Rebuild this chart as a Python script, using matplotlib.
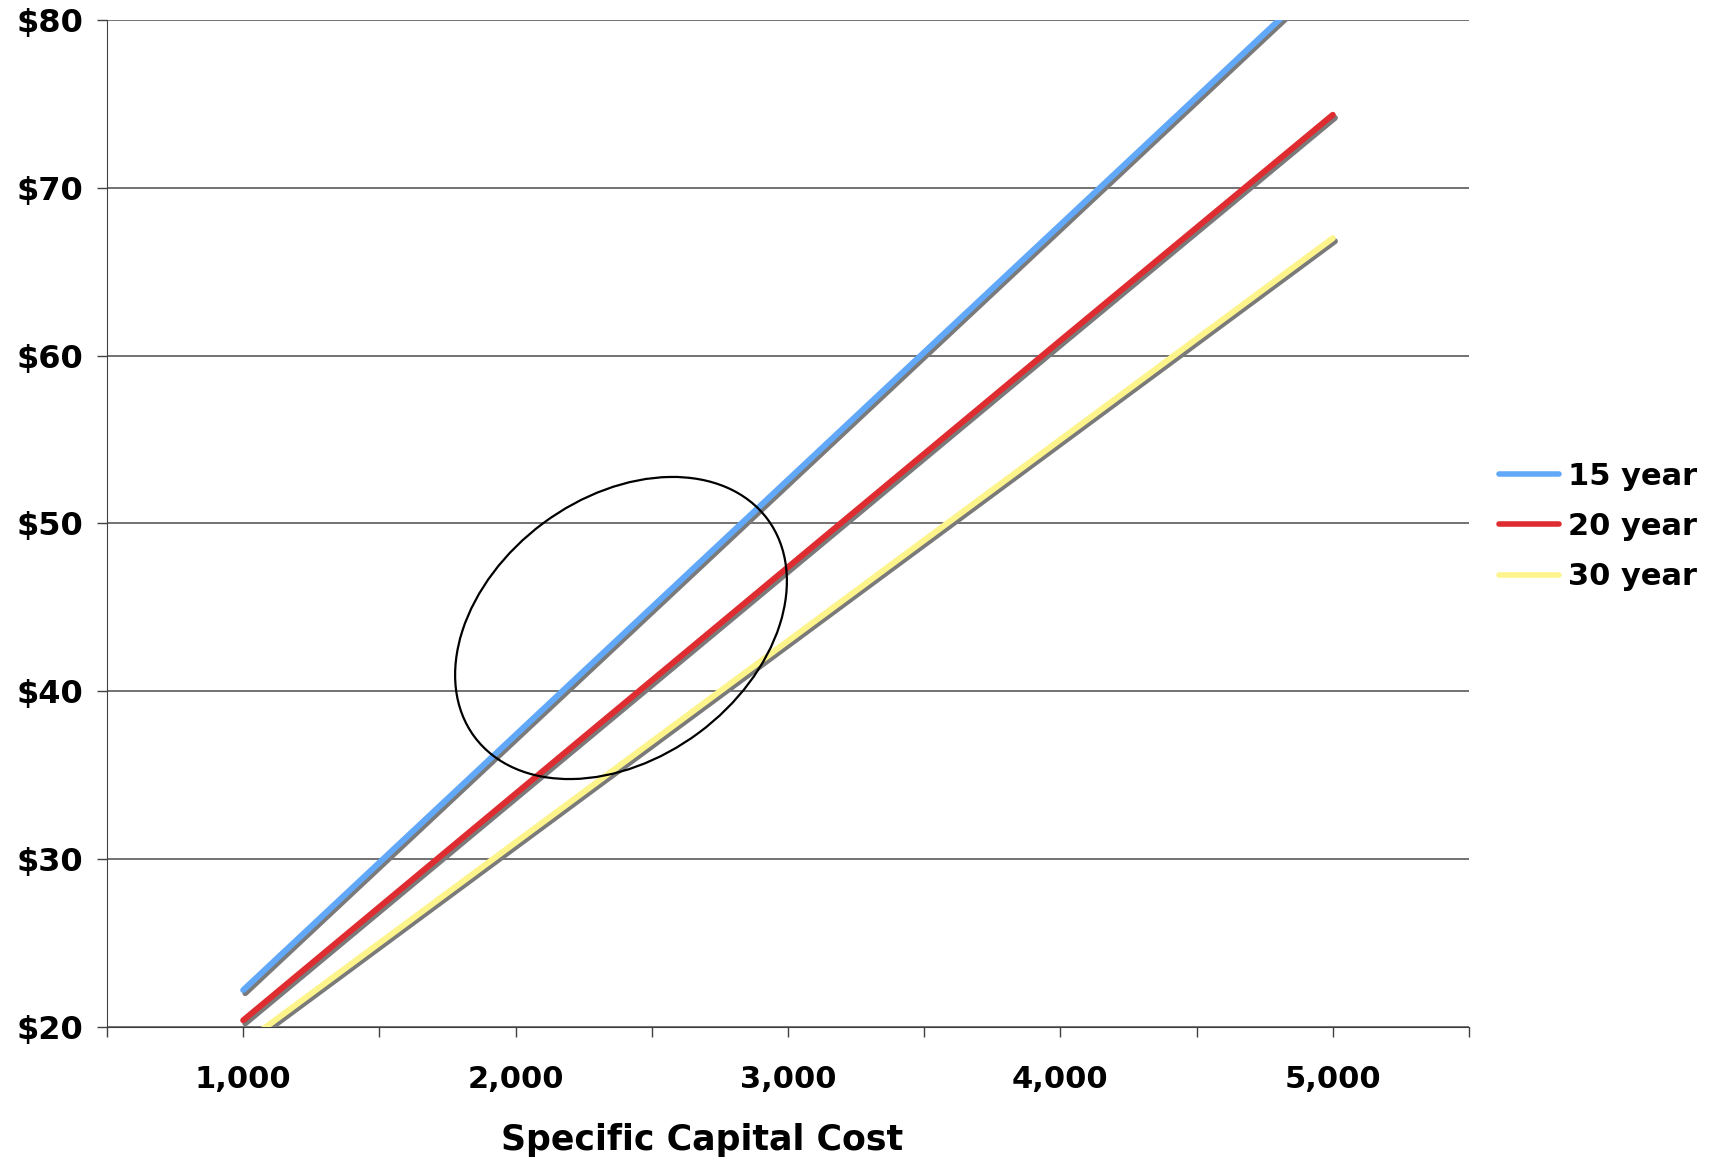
from matplotlib import pyplot as plt
from matplotlib.patches import Ellipse
from matplotlib.transforms import IdentityTransform
import matplotlib.patheffects as pe

font_size = 22

capital_cost = [1000, 2000, 3000, 4000, 5000]
cost_15 = [22.2, 37.4, 52.6, 67.8, 83.0]
cost_20 = [20.4, 33.9, 47.4, 60.9, 74.35]
cost_30 = [19.0, 31.0, 43.0, 55.0, 67.0]
series_names = ["15 year", "20 year", "30 year"]
series_colors = ["#62a8f8", "#de2c30", "#fdf48c"]

y_ticks = [20, 30, 40, 50, 60, 70, 80]
x_ticks = [500, 1000, 1500, 2000, 2500, 3000, 3500, 4000, 4500, 5000, 5500]

plt.rcParams.update({'font.family': 'DejaVu Sans', 'font.weight': 'bold',
                     'axes.labelweight': 'bold', 'font.size': font_size})

fig = plt.figure(figsize=(17.23, 11.61), dpi=100)
ax = fig.add_axes([0.0621, 0.1154, 0.7905, 0.8674])

shadow = [pe.SimpleLineShadow(offset=(1.5, -2.2), shadow_color="#7a7a7a", alpha=1.0), pe.Normal()]
for vals, name, col in zip([cost_15, cost_20, cost_30], series_names, series_colors):
    ax.plot(capital_cost, vals, color=col, lw=4.3, solid_capstyle='round',
            path_effects=shadow, label=name, zorder=3)

ax.set_xlim(500, 5500)
ax.set_ylim(20, 80)
ax.set_yticks(y_ticks)
ax.set_yticklabels(["${0}".format(v) for v in y_ticks], fontsize=23)
ax.set_xticks(x_ticks)
ax.set_xticklabels(["{0:,}".format(v) if v % 1000 == 0 and 1000 <= v <= 5000 else "" for v in x_ticks])

ax.grid(axis='y', color="#5a5a5a", lw=1.2)
ax.set_axisbelow(True)
for s in ['top', 'right']:
    ax.spines[s].set_visible(False)
ax.spines['left'].set_color("#404040")
ax.spines['bottom'].set_color("#404040")
ax.tick_params(axis='both', direction='out', length=7, width=1, color="#404040")
ax.tick_params(axis='x', pad=20)
ax.tick_params(axis='y', pad=10)

ax.set_xlabel("Specific Capital Cost", fontsize=25, labelpad=21, x=0.437)

# hand drawn ellipse, in pixel coords so the angle stays right
ell = Ellipse((621, 1161 - 628), width=365, height=261, angle=36.6, fill=False,
              edgecolor="black", lw=1.6, transform=IdentityTransform(), zorder=5)
fig.add_artist(ell)

fig.legend(handles=[plt.Line2D([], [], color=c, lw=4, solid_capstyle='round') for c in series_colors],
           labels=series_names, loc='center left', bbox_to_anchor=(0.870, 0.5465),
           frameon=False, borderpad=0, borderaxespad=0, handlelength=1.95,
           handletextpad=0.3, labelspacing=0.7, fontsize=font_size)

plt.savefig("out.png", dpi=100)
